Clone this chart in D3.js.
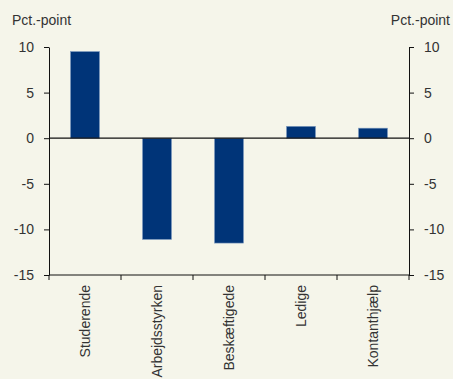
<!DOCTYPE html>
<html><head><meta charset="utf-8">
<script src="https://cdn.jsdelivr.net/npm/d3@7"></script>
<style>
html,body{margin:0;padding:0;background:#f5f5ea;}
svg{display:block;font-family:"Liberation Sans",Arial,sans-serif;}
</style></head>
<body><svg id="c" width="453" height="379"></svg>
<script>
const categories = ["Studerende","Arbejdsstyrken","Beskæftigede","Ledige","Kontanthjælp"];
const values = [9.5, -11.1, -11.5, 1.3, 1.1];
const yTicks = [10, 5, 0, -5, -10, -15];
const unitLabel = "Pct.-point";

(function(){
const svg = d3.select("#c");
const mLeft = 49, mRight = 409, mTop = 47, mBottom = 275;
const textColor = "#333";

const xb = d3.scaleBand().domain(categories).range([mLeft, mRight]);
const y = d3.scaleLinear().domain([-15, 10]).range([mBottom, mTop]);
const fmt = d => String(d);

svg.append("rect").attr("width",453).attr("height",379).attr("fill","#f5f5ea");

// bars
svg.append("g").selectAll("rect").data(values).join("rect")
  .attr("x",(d,i)=>xb(categories[i]) + xb.bandwidth()/2 - 14.5)
  .attr("width",29)
  .attr("y",d=>y(Math.max(0,d)))
  .attr("height",d=>Math.abs(y(d)-y(0)))
  .attr("fill","#003478")
  .attr("stroke","#7f9cc0").attr("stroke-width",0.6);

// zero line
svg.append("line").attr("x1",mLeft).attr("x2",mRight).attr("y1",y(0)).attr("y2",y(0))
  .attr("stroke","#111").attr("stroke-width",1.2);

function styleAxis(g){
  g.selectAll("path,line").attr("stroke","#111");
  g.selectAll("text").attr("fill",textColor).style("font-size","14px").style("font-family","'Liberation Sans',Arial,sans-serif");
}

const yl = svg.append("g").attr("transform",`translate(${mLeft},0)`)
  .call(d3.axisLeft(y).tickValues(yTicks).tickFormat(fmt).tickSize(5).tickSizeOuter(0).tickPadding(10));
styleAxis(yl);
const yr = svg.append("g").attr("transform",`translate(${mRight},0)`)
  .call(d3.axisRight(y).tickValues(yTicks).tickFormat(fmt).tickSize(5).tickSizeOuter(0).tickPadding(10));
styleAxis(yr);

// bottom axis with ticks at band boundaries
const xg = svg.append("g").attr("transform",`translate(0,${mBottom})`);
xg.append("line").attr("x1",mLeft).attr("x2",mRight).attr("stroke","#111");
const bounds = categories.map(c=>xb(c)).concat([mRight]);
xg.selectAll("line.t").data(bounds).join("line").attr("class","t")
  .attr("x1",d=>d).attr("x2",d=>d).attr("y1",0).attr("y2",5).attr("stroke","#111");
xg.selectAll("text").data(categories).join("text")
  .attr("transform",c=>`translate(${xb(c)+xb.bandwidth()/2},10) rotate(-90)`)
  .attr("text-anchor","end").attr("dy","0.35em")
  .attr("fill",textColor).style("font-size","14px")
  .text(c=>c);

svg.append("text").attr("x",12).attr("y",25).attr("fill",textColor).style("font-size","14px").text(unitLabel);
svg.append("text").attr("x",450).attr("y",25).attr("text-anchor","end").attr("fill",textColor).style("font-size","14px").text(unitLabel);
})();
</script></body></html>
